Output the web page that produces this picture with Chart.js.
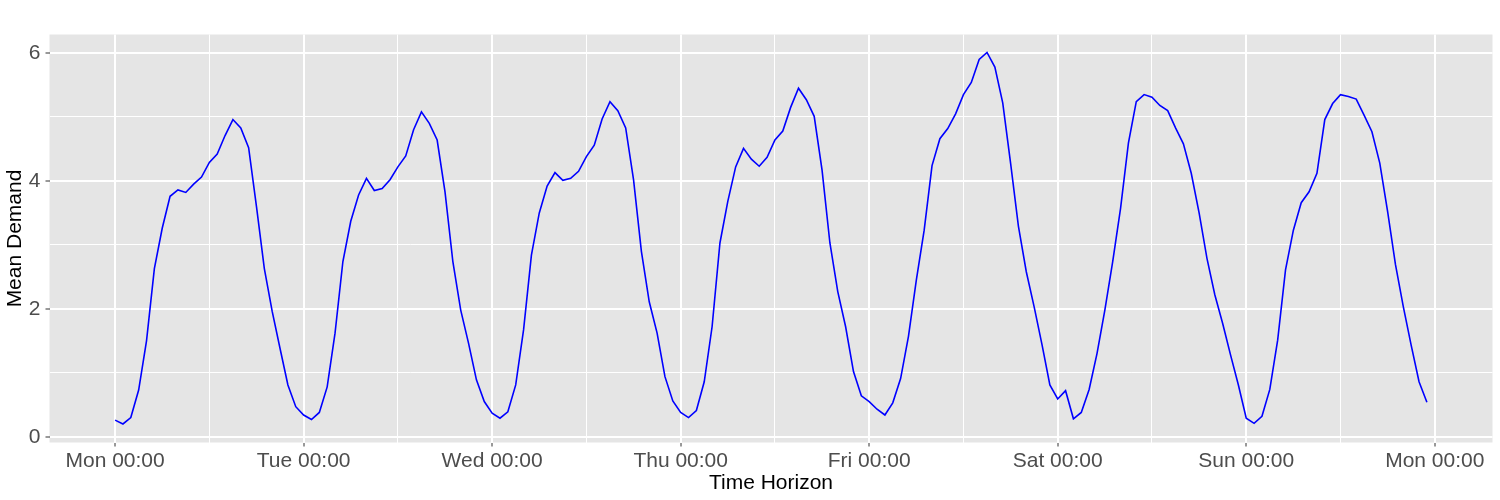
<!DOCTYPE html>
<html>
<head>
<meta charset="utf-8">
<script src="https://cdn.jsdelivr.net/npm/chart.js@4.4.1/dist/chart.umd.min.js"></script>
<style>
  html, body { margin: 0; padding: 0; background: #fff; }
  #wrap { width: 1500px; height: 500px; }
</style>
</head>
<body>
<div id="wrap"><canvas id="chart-demand" width="1500" height="500"></canvas></div>
<script>
// hourly mean demand, Mon 00:00 .. Sun 23:00
const demand = [
  0.26, 0.20, 0.30, 0.73, 1.50, 2.63, 3.26, 3.76, 3.86, 3.82, 3.95, 4.06,
  4.29, 4.42, 4.71, 4.96, 4.83, 4.52, 3.60, 2.63, 1.96, 1.38, 0.81, 0.47,
  0.34, 0.27, 0.38, 0.78, 1.62, 2.74, 3.37, 3.78, 4.04, 3.85, 3.88, 4.02,
  4.22, 4.39, 4.80, 5.08, 4.90, 4.64, 3.83, 2.74, 1.98, 1.46, 0.89, 0.55,
  0.37, 0.29, 0.39, 0.81, 1.67, 2.84, 3.50, 3.92, 4.13, 4.01, 4.04, 4.15,
  4.38, 4.56, 4.97, 5.24, 5.10, 4.83, 4.02, 2.90, 2.11, 1.62, 0.94, 0.56,
  0.38, 0.30, 0.41, 0.86, 1.72, 3.03, 3.68, 4.22, 4.51, 4.34, 4.23, 4.37,
  4.64, 4.78, 5.15, 5.45, 5.27, 5.01, 4.17, 3.03, 2.27, 1.72, 1.02, 0.64,
  0.55, 0.43, 0.34, 0.53, 0.91, 1.57, 2.45, 3.23, 4.24, 4.66, 4.82, 5.05,
  5.35, 5.54, 5.90, 6.01, 5.78, 5.22, 4.28, 3.29, 2.58, 2.03, 1.44, 0.81,
  0.59, 0.72, 0.28, 0.38, 0.74, 1.30, 1.98, 2.74, 3.57, 4.59, 5.24, 5.35,
  5.31, 5.18, 5.10, 4.83, 4.58, 4.12, 3.50, 2.79, 2.22, 1.77, 1.28, 0.81,
  0.29, 0.21, 0.32, 0.74, 1.51, 2.61, 3.23, 3.66, 3.83, 4.12, 4.96, 5.21,
  5.35, 5.32, 5.28, 5.03, 4.77, 4.28, 3.52, 2.69, 2.03, 1.43, 0.86, 0.54
];
const dayLabels = ['Mon', 'Tue', 'Wed', 'Thu', 'Fri', 'Sat', 'Sun', 'Mon'];
const xTicks = [0, 12, 24, 36, 48, 60, 72, 84, 96, 108, 120, 132, 144, 156, 168];
const yTicks = [0, 1, 2, 3, 4, 5, 6];

const points = demand.map((v, h) => ({ x: h, y: v }));

const tickFont = { family: '"Liberation Sans", Arial, sans-serif', size: 21 };
const titleFont = { family: '"Liberation Sans", Arial, sans-serif', size: 21 };

const panelBg = {
    id: 'panelBg',
    beforeDraw(chart) {
        const { ctx, chartArea: a } = chart;
        ctx.save();
        ctx.fillStyle = '#E5E5E5';
        ctx.fillRect(a.left, a.top, a.right - a.left, a.bottom - a.top);
        ctx.restore();
    },
};

new Chart(document.getElementById('chart-demand'), {
    type: 'line',
    data: {
        datasets: [
            {
                label: 'Mean Demand',
                data: points,
                borderColor: '#0000FF',
                borderWidth: 1.6,
                pointRadius: 0,
                tension: 0,
                fill: false,
            },
        ],
    },
    options: {
        responsive: false,
        animation: false,
        layout: { padding: { left: 0, right: 7.5, top: 34.5, bottom: 0 } },
        plugins: {
            legend: { display: false },
            tooltip: { enabled: false },
        },
        scales: {
            x: {
                type: 'linear',
                min: -8.35,
                max: 175.35,
                afterBuildTicks: (s) => { s.ticks = xTicks.map((v) => ({ value: v })); },
                afterFit: (s) => { s.height = 57.5; },
                border: { display: false },
                grid: {
                    color: '#FFFFFF',
                    lineWidth: (c) => (c.tick && c.tick.value % 24 === 0 ? 2 : 1),
                    tickLength: 4,
                    tickColor: (c) => (c.tick && c.tick.value % 24 === 0 ? '#333333' : 'rgba(0,0,0,0)'),
                    tickWidth: 1,
                },
                ticks: {
                    autoSkip: false,
                    maxRotation: 0,
                    padding: 2,
                    color: '#4D4D4D',
                    font: tickFont,
                    callback: (v) => (v % 24 === 0 ? dayLabels[v / 24] + ' 00:00' : ''),
                },
                title: {
                    display: true,
                    text: 'Time Horizon',
                    color: '#000000',
                    font: titleFont,
                    padding: { top: 0, bottom: 4 },
                },
            },
            y: {
                min: -0.09,
                max: 6.29,
                afterBuildTicks: (s) => { s.ticks = yTicks.map((v) => ({ value: v })); },
                afterFit: (s) => { s.width = 49.5; },
                border: { display: false },
                grid: {
                    color: '#FFFFFF',
                    lineWidth: (c) => (c.tick && c.tick.value % 2 === 0 ? 2 : 1),
                    tickLength: 4,
                    tickColor: (c) => (c.tick && c.tick.value % 2 === 0 ? '#333333' : 'rgba(0,0,0,0)'),
                    tickWidth: 1,
                },
                ticks: {
                    padding: 5,
                    color: '#4D4D4D',
                    font: tickFont,
                    callback: (v) => (v % 2 === 0 ? String(v) : ''),
                },
                title: {
                    display: true,
                    text: 'Mean Demand',
                    color: '#000000',
                    font: titleFont,
                    padding: { top: 3, bottom: 0 },
                },
            },
        },
    },
    plugins: [panelBg],
});
</script>
</body>
</html>
